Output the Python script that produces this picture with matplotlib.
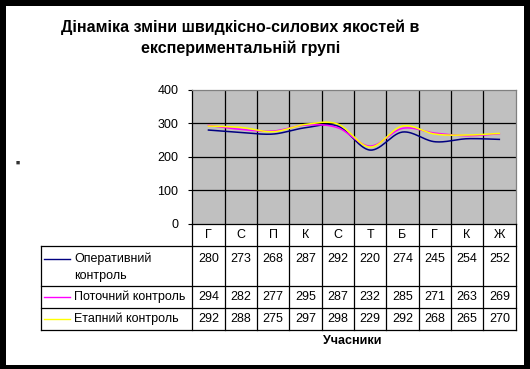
import numpy as np
import matplotlib
matplotlib.use("Agg")
import matplotlib.pyplot as plt
from matplotlib.patches import Rectangle

plt.rcParams['font.family'] = ['Liberation Sans', 'DejaVu Sans']

categories = ['Г', 'С', 'П', 'К', 'С', 'Т', 'Б', 'Г', 'К', 'Ж']
operative = [280, 273, 268, 287, 292, 220, 274, 245, 254, 252]
current = [294, 282, 277, 295, 287, 232, 285, 271, 263, 269]
stage = [292, 288, 275, 297, 298, 229, 292, 268, 265, 270]
series_names = ['Оперативний\nконтроль', 'Поточний контроль', 'Етапний контроль']
series_colors = ['#000080', '#FF00FF', '#FFFF00']
yticks = [0, 100, 200, 300, 400]
title = 'Дінаміка зміни швидкісно-силових якостей в\nекспериментальній групі'
xlabel = 'Учасники'

W, H = 530, 369
fig = plt.figure(figsize=(W / 100, H / 100), dpi=100)

def fx(px):
    return px / W

def fy(py):
    return 1 - py / H

# black frame
fig.patches.append(Rectangle((0, 0), 1, 1, transform=fig.transFigure,
                             facecolor='black', zorder=-10))
fig.patches.append(Rectangle((fx(6), fy(365)), fx(524) - fx(6), fy(6) - fy(365),
                             transform=fig.transFigure, facecolor='white', zorder=-9))

PL, PR, PT, PB = 192.3, 515.5, 90.0, 223.5
ax = fig.add_axes([fx(PL), fy(PB), fx(PR) - fx(PL), fy(PT) - fy(PB)])
ax.set_facecolor('#C0C0C0')
n = len(categories)
ax.set_xlim(-0.5, n - 0.5)
ax.set_ylim(0, 400)
ax.set_yticks(yticks)
ax.set_xticks([])
ax.tick_params(axis='y', length=3, width=0.8, pad=7, labelsize=9, colors='black')
for y in yticks[1:-1]:
    ax.axhline(y, color='black', lw=0.9, zorder=1)
for k in range(1, n):
    ax.axvline(k - 0.5, color='black', lw=0.9, zorder=1)
ax.spines['left'].set_color('black')
ax.spines['bottom'].set_color('black')
ax.spines['top'].set_color('#808080')
ax.spines['right'].set_color('#808080')
for s in ax.spines.values():
    s.set_linewidth(0.9)


def smooth(vals, steps=30):
    x = np.arange(len(vals), dtype=float)
    y = np.asarray(vals, dtype=float)
    P = np.column_stack([x, y])
    Pe = np.vstack([P[0], P, P[-1]])
    out = []
    t = np.linspace(0, 1, steps)
    for i in range(len(P) - 1):
        p0, p1, p2, p3 = Pe[i], Pe[i + 1], Pe[i + 2], Pe[i + 3]
        b0 = p1
        b1 = p1 + (p2 - p0) / 6
        b2 = p2 - (p3 - p1) / 6
        b3 = p2
        seg = ((1 - t) ** 3)[:, None] * b0 + (3 * (1 - t) ** 2 * t)[:, None] * b1 \
            + (3 * (1 - t) * t ** 2)[:, None] * b2 + (t ** 3)[:, None] * b3
        out.append(seg if i == 0 else seg[1:])
    out = np.vstack(out)
    return out[:, 0], out[:, 1]

all_series = [operative, current, stage]
for vals, col in zip(all_series, series_colors):
    xs, ys = smooth(vals)
    ax.plot(xs, ys, color=col, lw=1.1, zorder=3)

# data table
TL, TB = 40.7, 329.5
colw = (PR - PL) / n

def tx(px):
    return -0.5 + (px - PL) / colw

tax = fig.add_axes([fx(TL), fy(TB), fx(PR) - fx(TL), fy(PB) - fy(TB)])
tax.set_xlim(tx(TL), tx(PR))
tax.set_ylim(TB - PB, 0)
tax.axis('off')
lk = dict(color='black', lw=0.9, clip_on=False, solid_capstyle='projecting')
for k in range(n + 1):
    tax.plot([k - 0.5, k - 0.5], [0, TB - PB], **lk)
tax.plot([tx(TL), tx(TL)], [246 - PB, TB - PB], **lk)
row_edges = [246, 286, 308.3, TB]
for r in row_edges:
    tax.plot([tx(TL), tx(PR)], [r - PB, r - PB], **lk)

for i, c in enumerate(categories):
    tax.text(i, 234.5 - PB, c, ha='center', va='center', fontsize=9)

row_y = [258.5, 297, 319]
for vals, col, name, ry in zip(all_series, series_colors, series_names, row_y):
    for i, v in enumerate(vals):
        tax.text(i, ry - PB, str(v), ha='center', va='center', fontsize=9)
    tax.plot([tx(44), tx(70)], [ry - PB, ry - PB], color=col, lw=1.0, clip_on=False)
    lines = name.split('\n')
    for j, ln in enumerate(lines):
        tax.text(tx(74), ry - PB + j * 17.5, ln, ha='left', va='center', fontsize=9)

# titles
t1, t2 = title.split('\n')
fig.text(fx(240.5), fy(27), t1, ha='center', va='center', fontsize=11.5, fontweight='bold')
fig.text(fx(240.5), fy(48.5), t2, ha='center', va='center', fontsize=11.5, fontweight='bold')
fig.text(fx(352.5), fy(341.5), xlabel, ha='center', va='center', fontsize=9, fontweight='bold')
fig.text(fx(17.5), fy(163.5), '■', ha='center', va='center', fontsize=5, color='#333333')

fig.savefig('out.png', dpi=100)
